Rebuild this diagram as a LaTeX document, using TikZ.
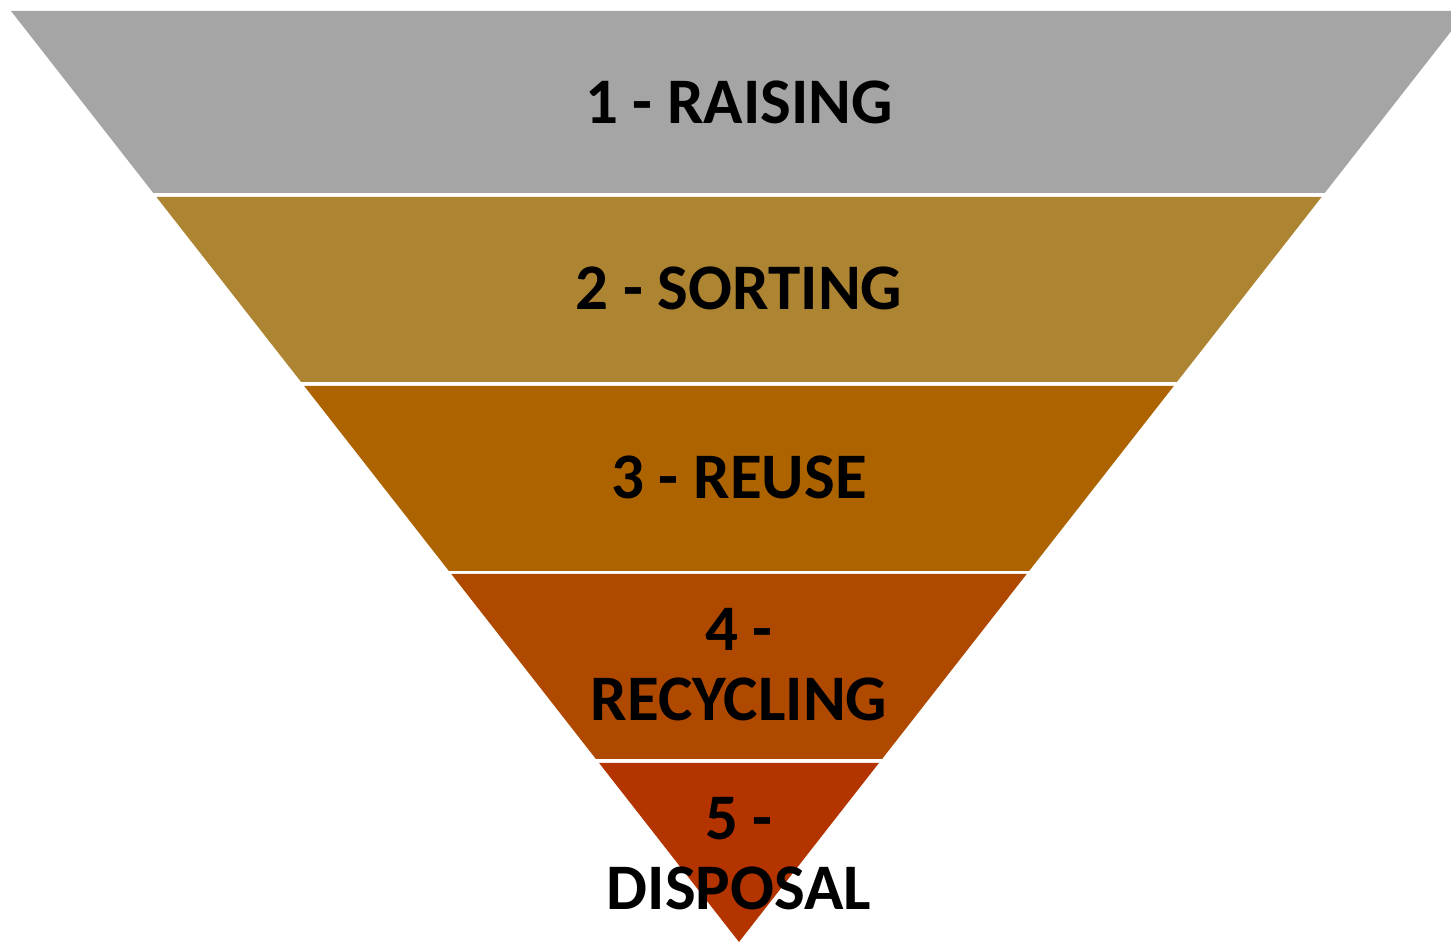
\documentclass[tikz,border=0pt]{standalone}
\usepackage{fontspec}
\setmainfont{Carlito}
\usepackage{xcolor}
\definecolor{BandGray}{HTML}{A5A5A5}
\definecolor{BandOchre}{HTML}{AD8432}
\definecolor{BandAmber}{HTML}{AD6400}
\definecolor{BandRust}{HTML}{B04900}
\definecolor{BandRed}{HTML}{B43400}

\begin{document}
\begin{tikzpicture}[
      x=1pt, y=1pt,
      band/.style={draw=none},
      label/.style={align=center, font=\bfseries\fontsize{65}{70}\selectfont, text=black, inner sep=0pt}
    ]
      \useasboundingbox (0,0) rectangle (1451,942);
      \clip (0,0) rectangle (1451,942);

      % Bands of the funnel
      \fill[band, BandGray]  (11,931) -- (1467,931) -- (1324.7,749) -- (153.3,749) -- cycle;
      \fill[band, BandOchre] (156.4,745) -- (1321.6,745) -- (1176.9,560) -- (301.1,560) -- cycle;
      \fill[band, BandAmber] (304.2,556) -- (1173.8,556) -- (1029.1,371) -- (448.9,371) -- cycle;
      \fill[band, BandRust]  (451.3,368) -- (1026.7,368) -- (882.1,183) -- (595.9,183) -- cycle;
      \fill[band, BandRed]   (599.1,179) -- (878.9,179) -- (739,0) -- cycle;

      % Labels
      \node[label] (raising) at (739,840) {1 - RAISING};
      \node[label] (sorting) at (739,654) {2 - SORTING};
      \node[label] (reuse) at (739,465) {3 - REUSE};
      \node[label] (recycling) at (739,277) {4 -\\RECYCLING};
      \node[label] (disposal) at (739,88) {5 -\\DISPOSAL};

    \end{tikzpicture}
\end{document}
